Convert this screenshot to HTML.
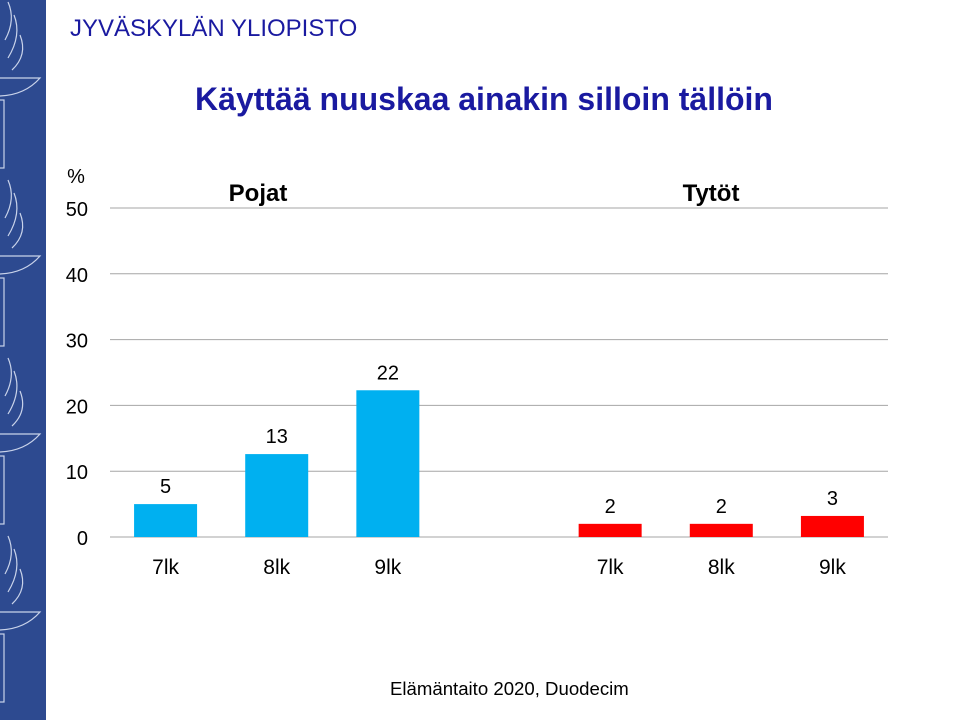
<!DOCTYPE html>
<html><head><meta charset="utf-8"><style>
body{margin:0;width:960px;height:720px;overflow:hidden;background:#fff;font-family:"Liberation Sans",sans-serif;position:relative}
</style></head><body>
<div style="position:absolute;left:0;top:0;width:46px;height:720px;background:#2d4a90"></div>
<svg width="46" height="720" style="position:absolute;left:0;top:0" fill="none" stroke="#c9d3ea" stroke-width="1.2">
<g id="em"><path d="M8 2 Q16 20 5 40 M14 15 Q22 35 8 58 M20 35 Q28 55 12 70"/><path d="M0 78 L40 78 Q25 95 0 96"/><rect x="-4" y="100" width="8" height="68"/></g>
<use href="#em" y="178"/><use href="#em" y="356"/><use href="#em" y="534"/>
</svg>
<div style="position:absolute;left:70px;top:15px;font-size:24px;color:#1a1aa0">JYVÄSKYLÄN YLIOPISTO</div>
<div style="position:absolute;left:0;width:968px;top:81px;text-align:center;font-size:32px;font-weight:bold;color:#1a1aa0">Käyttää nuuskaa ainakin silloin tällöin</div>
<div style="position:absolute;left:390px;top:678px;font-size:18.6px;color:#000">Elämäntaito 2020, Duodecim</div>
<svg id="chart" width="960" height="720" style="position:absolute;left:0;top:0;font-family:'Liberation Sans',sans-serif"></svg>
<script>
const categories=["7lk","8lk","9lk","7lk","8lk","9lk"];
const values=[5,12.6,22.3,2,2,3.2];
const valueLabels=["5","13","22","2","2","3"];
const slots=[0,1,2,4,5,6];
const colors=["#00b0f0","#00b0f0","#00b0f0","#ff0000","#ff0000","#ff0000"];
const ticks=[0,10,20,30,40,50];
const svg=document.getElementById('chart');const NS='http://www.w3.org/2000/svg';
const x0=110,x1=888,y0=537,yTop=208,yMax=50,slotW=(x1-x0)/7,barW=63;
const y=v=>y0-(y0-yTop)*v/yMax;
function mk(t,a,txt){const e=document.createElementNS(NS,t);for(const k in a)e.setAttribute(k,a[k]);if(txt!=null)e.textContent=txt;svg.appendChild(e);return e;}
ticks.forEach(t=>{
 const l=mk('line',{x1:x0,x2:x1,y1:y(t),y2:y(t),stroke:'#a6a6a6','stroke-width':1});
 
 
 const tx=mk('text',{x:88,y:y(t)+8,'text-anchor':'end','font-size':20,fill:'#000'},String(t));
 
 
});
const pct=mk('text',{x:76,y:183,'text-anchor':'middle','font-size':20},'%');


values.forEach((v,i)=>{
 const cx=x0+slotW*(slots[i]+0.5);
 const r=mk('rect',{x:cx-barW/2,y:y(v),width:barW,height:y0-y(v),fill:colors[i]});
 
 
 const lb=mk('text',{x:cx,y:y(v)-11,'text-anchor':'middle','font-size':20},valueLabels[i]);
 
 
 const c=mk('text',{x:cx,y:574,'text-anchor':'middle','font-size':21},categories[i]);
 
 
});
const g1=mk('text',{x:258,y:201,'text-anchor':'middle','font-size':24,'font-weight':'bold'},'Pojat');


const g2=mk('text',{x:711,y:201,'text-anchor':'middle','font-size':24,'font-weight':'bold'},'Tytöt');


</script>
</body></html>
